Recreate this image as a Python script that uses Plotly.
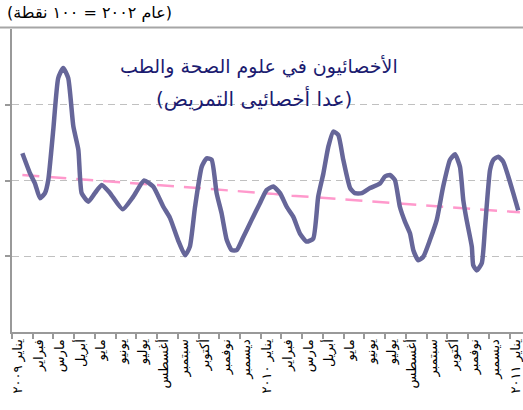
import plotly.graph_objects as go

# Category labels (one per month, Jan 2009 .. Jan 2011)
months = ["يناير ٢٠٠٩", "فبراير", "مارس", "أبريل", "مايو", "يونيو", "يوليو",
          "أغسطس", "سبتمبر", "أكتوبر", "نوفمبر", "ديسمبر",
          "يناير ٢٠١٠", "فبراير", "مارس", "أبريل", "مايو", "يونيو", "يوليو",
          "أغسطس", "سبتمبر", "أكتوبر", "نوفمبر", "ديسمبر", "يناير ٢٠١١"]
month_pos = list(range(len(months)))

# Main series (index, 2002 = 100), position in months
series_pos = [0, 0.37, 0.61, 0.85, 1.09, 1.25, 1.49, 1.73, 1.97, 2.21,
              2.46, 2.70, 2.86, 3.18, 3.50, 3.83, 4.23, 4.84, 5.35, 5.87,
              6.31, 6.80, 7.12, 7.51, 7.85, 8.08, 8.33, 8.65, 8.89, 9.13,
              9.37, 9.61, 9.86, 10.10, 10.34, 10.66, 11.06, 11.46, 11.78, 12.10,
              12.43, 12.75, 13.07, 13.39, 13.71, 14.03, 14.27, 14.52, 14.76, 15.00,
              15.24, 15.48, 15.81, 16.04, 16.37, 16.77, 17.25, 17.49, 17.73, 17.97,
              18.21, 18.46, 18.70, 18.86, 19.10, 19.34, 19.66, 19.99, 20.30, 20.63,
              20.87, 21.11, 21.27, 21.43, 21.68, 21.75, 21.92, 22.16, 22.32, 22.56,
              22.72, 22.96, 23.20, 23.44, 23.68, 23.92]
series_val = [105.4, 101.4, 99.4, 96.5, 97.5, 100.1, 110.0, 120.3, 122.3, 120.3,
              110.7, 106.1, 97.5, 95.8, 97.5, 99.1, 97.5, 94.3, 96.8, 100.0,
              98.8, 94.8, 92.6, 88.2, 85.2, 86.9, 94.8, 102.7, 104.4, 104.1,
              97.5, 93.5, 88.2, 86.2, 86.2, 88.8, 92.2, 95.5, 98.1, 98.8,
              97.5, 94.8, 92.8, 89.5, 87.9, 88.5, 96.8, 101.4, 106.7, 109.7,
              109.0, 104.1, 98.5, 97.5, 97.5, 98.5, 99.4, 100.8, 101.1, 100.1,
              94.8, 91.8, 89.5, 86.2, 84.2, 84.9, 88.2, 92.2, 98.8, 104.1,
              105.2, 102.7, 96.1, 92.2, 86.9, 83.2, 82.2, 83.6, 90.8, 102.1,
              104.1, 104.7, 103.7, 100.8, 97.5, 94.1]

# Trend line values per month
trend_val = [101.1, 100.8, 100.5, 100.2, 99.9, 99.5, 99.2, 98.9, 98.6, 98.3,
             98.0, 97.7, 97.4, 97.0, 96.7, 96.4, 96.1, 95.8, 95.5, 95.2,
             94.8, 94.5, 94.2, 93.9, 93.7]

grid_vals = [85, 100, 115]

title_main = "الأخصائيون في علوم الصحة والطب"
title_sub = "(عدا أخصائيى التمريض)"
unit_note = "(عام ٢٠٠٢ = ١٠٠ نقطة)"

FONT = "DejaVu Sans"

fig = go.Figure()
fig.add_trace(go.Scatter(
    x=month_pos, y=trend_val, mode="lines",
    line=dict(color="#FF99CC", width=2.5, dash="17px,10px"),
    hoverinfo="skip", showlegend=False))
fig.add_trace(go.Scatter(
    x=series_pos, y=series_val, mode="lines",
    line=dict(color="#666699", width=4.5, shape="spline", smoothing=0.5),
    showlegend=False))

W, H = 523, 410
ml, mr, mt, mb = 12, 0, 29, 78
ph = H - mt - mb
pw = W - ml - mr

label_pos = [p - 0.2 for p in month_pos]

fig.update_layout(
    width=W, height=H,
    margin=dict(l=ml, r=mr, t=mt, b=mb),
    paper_bgcolor="white", plot_bgcolor="white",
    font=dict(family=FONT, color="black"),
    xaxis=dict(
        range=[-0.5, 24.15], showgrid=False, zeroline=False, automargin=False,
        showline=True, linecolor="#999999", linewidth=2,
        tickmode="array", tickvals=label_pos, ticktext=months,
        ticklabeloverflow="allow",
        ticks="", tickangle=-90, tickfont=dict(size=13, family=FONT, color="black"),
        minor=dict(ticks="outside", ticklen=5, tickwidth=1.5, tickcolor="#999999",
                   tick0=-0.5, dtick=1, showgrid=False),
    ),
    yaxis=dict(
        range=[70, 130], showticklabels=False, zeroline=False, automargin=False,
        showline=True, linecolor="#999999", linewidth=2,
        tickmode="array", tickvals=grid_vals,
        ticks="outside", ticklen=5, tickwidth=1.5, tickcolor="#999999",
        showgrid=True, gridcolor="#C0C0C0", gridwidth=1, griddash="7px,5px",
    ),
)

# top frame line across full width
fig.add_shape(type="line", xref="paper", yref="paper",
              x0=-ml / pw, x1=1.0, y0=(H - mb - 27.5) / ph, y1=(H - mb - 27.5) / ph,
              line=dict(color="#A6A6A6", width=2))

fig.add_annotation(text=unit_note, xref="paper", yref="paper",
                   x=(5 - ml) / pw, y=(H - mb - 12) / ph, xanchor="left", yanchor="middle",
                   showarrow=False, font=dict(size=16, family=FONT, color="black"))
fig.add_annotation(text=title_main, xref="paper", yref="paper",
                   x=(259 - ml) / pw, y=(H - mb - 66) / ph, xanchor="center", yanchor="middle",
                   showarrow=False, font=dict(size=19, family=FONT, color="#1B1B70"))
fig.add_annotation(text=title_sub, xref="paper", yref="paper",
                   x=(254 - ml) / pw, y=(H - mb - 98) / ph, xanchor="center", yanchor="middle",
                   showarrow=False, font=dict(size=20, family=FONT, color="#1B1B70"))

fig.write_html("out.html", config={"displayModeBar": False},
               post_script="document.body.style.margin='0px';document.body.style.padding='0px';")
